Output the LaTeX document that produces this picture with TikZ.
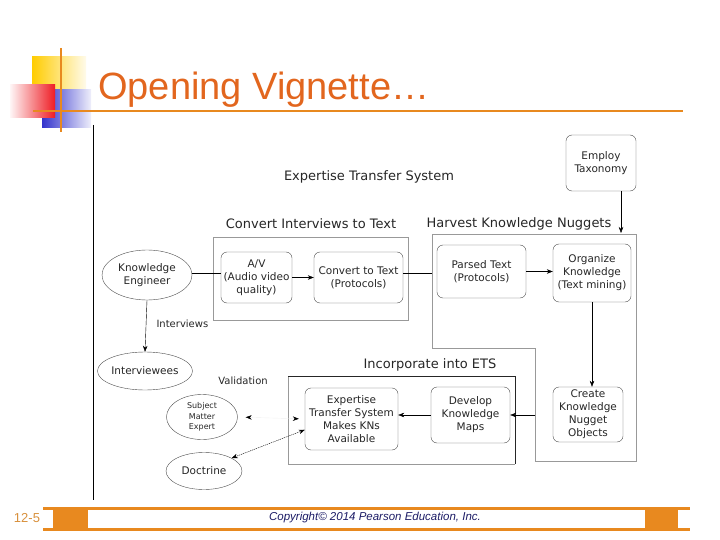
\documentclass[tikz,border=0pt]{standalone}
\usepackage{fontspec}
\setmainfont{DejaVu Sans}
\newfontfamily\slidefont{Liberation Sans}
\usepackage{tikz}
\usetikzlibrary{arrows.meta,positioning,calc,shapes.geometric}
\definecolor{vigorange}{HTML}{E2661E}
\definecolor{barorange}{HTML}{E8891F}
\definecolor{numtan}{HTML}{D8903C}
\definecolor{copynavy}{HTML}{1C1C66}
\definecolor{decoyellow}{HTML}{FFCC00}
\definecolor{decored}{HTML}{EE1C24}
\definecolor{decoblue}{HTML}{3333CC}
\tikzset{
  stepbox/.style={draw=black!70, rounded corners=6pt, thin, align=center, inner sep=1pt, text=black!85, font=\fontsize{10.5}{13}\selectfont},
  actor/.style={draw=black!70, ellipse, thin, align=center, inner sep=0pt, text=black!85, font=\fontsize{10.5}{13}\selectfont},
  frame/.style={draw=black!40, line width=0.6pt},
  darkframe/.style={draw=black!85, line width=0.6pt},
  heading/.style={text=black!85, font=\fontsize{13}{15}\selectfont},
  note/.style={text=black!85, font=\fontsize{10}{12}\selectfont},
  line/.style={-{Stealth[length=6pt,width=4.5pt]}, thin},
  valid/.style={{Stealth[length=6pt,width=4.5pt]}-{Stealth[length=6pt,width=4.5pt]}, thin}
}

\begin{document}
\begin{tikzpicture}[x=1pt,y=-1pt]
  \useasboundingbox (0,0) rectangle (720,540);
  % slide decoration
  \shade[left color=decoyellow, right color=decoyellow!8] (32,57) rectangle (86,102);
  \shade[left color=decoblue, right color=decoblue!8] (42,90) rectangle (91,128);
  \shade[left color=decored!4, right color=decored] (10,85) rectangle (55,118);
  \draw[barorange, line width=2pt] (61,48) -- (61,132);
  \draw[barorange, line width=2pt] (33,111) -- (683,111);
  \node[anchor=base west, inner sep=0pt, text=vigorange, font=\slidefont\fontsize{38}{40}\selectfont] (title) at (98,100) {Opening Vignette…};
  \draw[thin] (93,125) -- (93,500);

  % footer
  \draw[barorange, line width=3pt] (43,508) -- (690,508);
  \draw[barorange, line width=3pt] (43,529) -- (690,529);
  \fill[barorange] (53,508) rectangle (88,529);
  \fill[barorange] (645,508) rectangle (678,529);
  \node[text=numtan, font=\slidefont\fontsize{13}{14}\selectfont] (slideno) at (27,518) {12-5};
  \node[text=copynavy, font=\slidefont\itshape\fontsize{11.5}{13}\selectfont] (copyright) at (375,518) {Copyright© 2014 Pearson Education, Inc.};

  % frames
  \draw[frame] (213,237) rectangle (408,320);
  \draw[frame] (432,234) -- (636,234) -- (636,461) -- (535,461) -- (535,348) -- (432,348) -- cycle;
  \draw[frame] (515,464) -- (288,464) -- (288,376);
  \draw[darkframe] (288,376) -- (515,376) -- (515,464);
  \coordinate (hvin) at (432,273);
  \coordinate (hvtop) at (621,233);
  \coordinate (hvout) at (535,415);

  \node[heading] (ets) at (369,177) {Expertise Transfer System};
  \node[heading] (convhead) at (311,224) {Convert Interviews to Text};
  \node[heading] (harvhead) at (519,224) {Harvest Knowledge Nuggets};
  \node[heading] (inchead) at (430,365) {Incorporate into ETS};

  \node[actor, minimum width=90pt, minimum height=50pt] (engineer) at (147,275) {Knowledge\\Engineer};
  \node[actor, minimum width=80pt, minimum height=38pt] (interviewees) at (145,371) {Interviewees};
  \node[actor, minimum width=71pt, minimum height=45pt, font=\fontsize{8}{10.5}\selectfont] (sme) at (202,417) {Subject\\Matter\\Expert};
  \node[actor, minimum width=76pt, minimum height=37pt] (doctrine) at (204,471) {Doctrine};
  \node[note, anchor=west] (interviews) at (153,324) {Interviews};
  \node[note] (validation) at (243,381) {Validation};

  \node[stepbox, minimum width=71pt, minimum height=51pt] (av) at (256.5,277.5) {A/V\\(Audio video\\quality)};
  \node[stepbox, minimum width=89pt, minimum height=51pt] (conv) at (358.5,277.5) {Convert to Text\\(Protocols)};
  \node[stepbox, minimum width=89pt, minimum height=53pt] (parsed) at (481.5,271.5) {Parsed Text\\(Protocols)};
  \node[stepbox, minimum width=78pt, minimum height=58pt] (organize) at (592,273) {Organize\\Knowledge\\(Text mining)};
  \node[stepbox, minimum width=70pt, minimum height=56pt] (taxonomy) at (601,163) {Employ\\Taxonomy};
  \node[stepbox, minimum width=70pt, minimum height=55pt] (create) at (588,414.5) {Create\\Knowledge\\Nugget\\Objects};
  \node[stepbox, minimum width=79pt, minimum height=56pt] (develop) at (470.5,415) {Develop\\Knowledge\\Maps};
  \node[stepbox, minimum width=93pt, minimum height=62pt] (etsbox) at (351.5,419) {Expertise\\Transfer System\\Makes KNs\\Available};

  \draw[thin] (engineer.east |- hvin) -- (av.west |- hvin);
  \draw[line] (av.east) -- (conv.west);
  \draw[thin] (conv.east |- hvin) -- (hvin);
  \draw[line] (parsed.east) -- (parsed.east -| organize.west);
  \draw[line] (hvtop |- taxonomy.south) -- (hvtop);
  \draw[line] (organize.south) -- (organize.south |- create.north);
  \draw[line] (hvout) -- (develop.east);
  \draw[line] (develop.west) -- (develop.west -| etsbox.east);
  \draw[line] (engineer.south) -- (interviewees.north);
  \draw[valid, draw=black!6, {Stealth[length=6pt,width=4.5pt,black]}-{Stealth[length=6pt,width=4.5pt,black]}, shorten <=8pt, shorten >=6pt] (sme.east) -- (etsbox.west);
  \draw[valid, dash pattern=on 1.2pt off 0.8pt] (doctrine.25) -- (etsbox.193);
\end{tikzpicture}
\end{document}
